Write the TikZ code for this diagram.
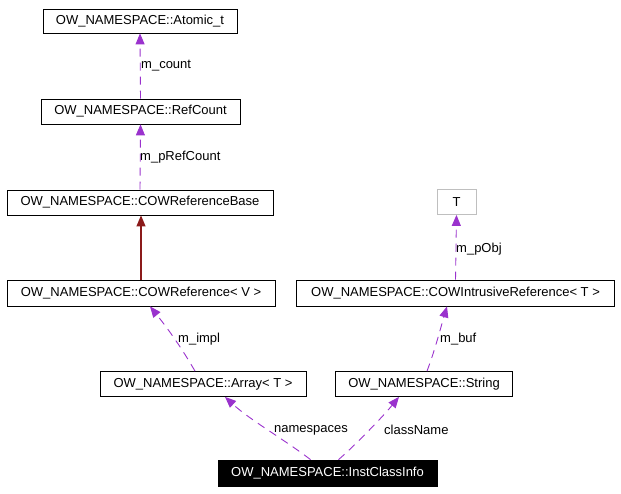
\documentclass[tikz,border=0pt]{standalone}
\usepackage{fontspec}
\setmainfont{Liberation Sans}
\usetikzlibrary{arrows.meta}
\definecolor{dep}{HTML}{9A32CD}
\definecolor{inh}{HTML}{8B1A1A}
\definecolor{grayb}{HTML}{BFBFBF}
\tikzset{
  cls/.style={draw=black, line width=0.8pt, inner sep=0pt, font=\fontsize{13}{15}\selectfont, align=center},
  depedge/.style={color=dep, line width=0.9pt, dash pattern=on 8pt off 6pt, -{Triangle[length=11pt,width=9pt]}},
  inhedge/.style={color=inh, line width=1.2pt, -{Triangle[length=11pt,width=9pt]}},
  lbl/.style={font=\fontsize{13}{15}\selectfont, inner sep=0pt, anchor=west, text=black}
}
\begin{document}
\begin{tikzpicture}[x=1pt,y=-1pt]
\useasboundingbox (0,0) rectangle (621,493);
\node[cls, minimum width=194pt, minimum height=24pt] (atomic) at (140,21) {OW\_NAMESPACE::Atomic\_t};
\node[cls, minimum width=199pt, minimum height=25pt] (refcount) at (140.5,111.5) {OW\_NAMESPACE::RefCount};
\node[cls, minimum width=266pt, minimum height=25pt] (cowbase) at (140,202.5) {OW\_NAMESPACE::COWReferenceBase};
\node[cls, draw=grayb, minimum width=39pt, minimum height=25pt] (T) at (456.5,202) {T};
\node[cls, minimum width=268pt, minimum height=26pt] (cowref) at (141,293) {OW\_NAMESPACE::COWReference< V >};
\node[cls, minimum width=318pt, minimum height=26pt] (cowintr) at (455.5,293) {OW\_NAMESPACE::COWIntrusiveReference< T >};
\node[cls, minimum width=206pt, minimum height=25pt] (array) at (203,384) {OW\_NAMESPACE::Array< T >};
\node[cls, minimum width=177pt, minimum height=25pt] (string) at (424,384) {OW\_NAMESPACE::String};
\node[cls, fill=black, text=white, minimum width=219pt, minimum height=26pt] (inst) at (327.5,473) {OW\_NAMESPACE::InstClassInfo};

\draw[depedge] (refcount.north) -- (atomic.south);
\node[lbl] (lcount) at (141,66) {m\_count};
\draw[depedge] (cowbase.north) -- (refcount.south);
\node[lbl] (lprc) at (140,157) {m\_pRefCount};
\draw[inhedge] (cowref.north) -- (cowbase.south -| cowref.north);
\draw[depedge] (cowintr.north) -- (T.south);
\node[lbl] (lpobj) at (456,249) {m\_pObj};
\draw[depedge] ([xshift=-8pt]array.north) .. controls (180,345) and (165,325) .. ([xshift=9pt]cowref.south);
\node[lbl] (limpl) at (178,339) {m\_impl};
\draw[depedge] ([xshift=3pt]string.north) .. controls (435,350) and (440,330) .. ([xshift=-8.5pt]cowintr.south);
\node[lbl] (lbuf) at (440,339) {m\_buf};
\draw[depedge] ([xshift=-17pt]inst.north) .. controls (285,440) and (250,420) .. ([xshift=22pt]array.south);
\node[lbl] (lns) at (274,430) {namespaces};
\draw[depedge] ([xshift=11pt]inst.north) .. controls (350,450) and (380,420) .. ([xshift=-25pt]string.south);
\node[lbl] (lcn) at (384,430) {className};
\end{tikzpicture}
\end{document}
